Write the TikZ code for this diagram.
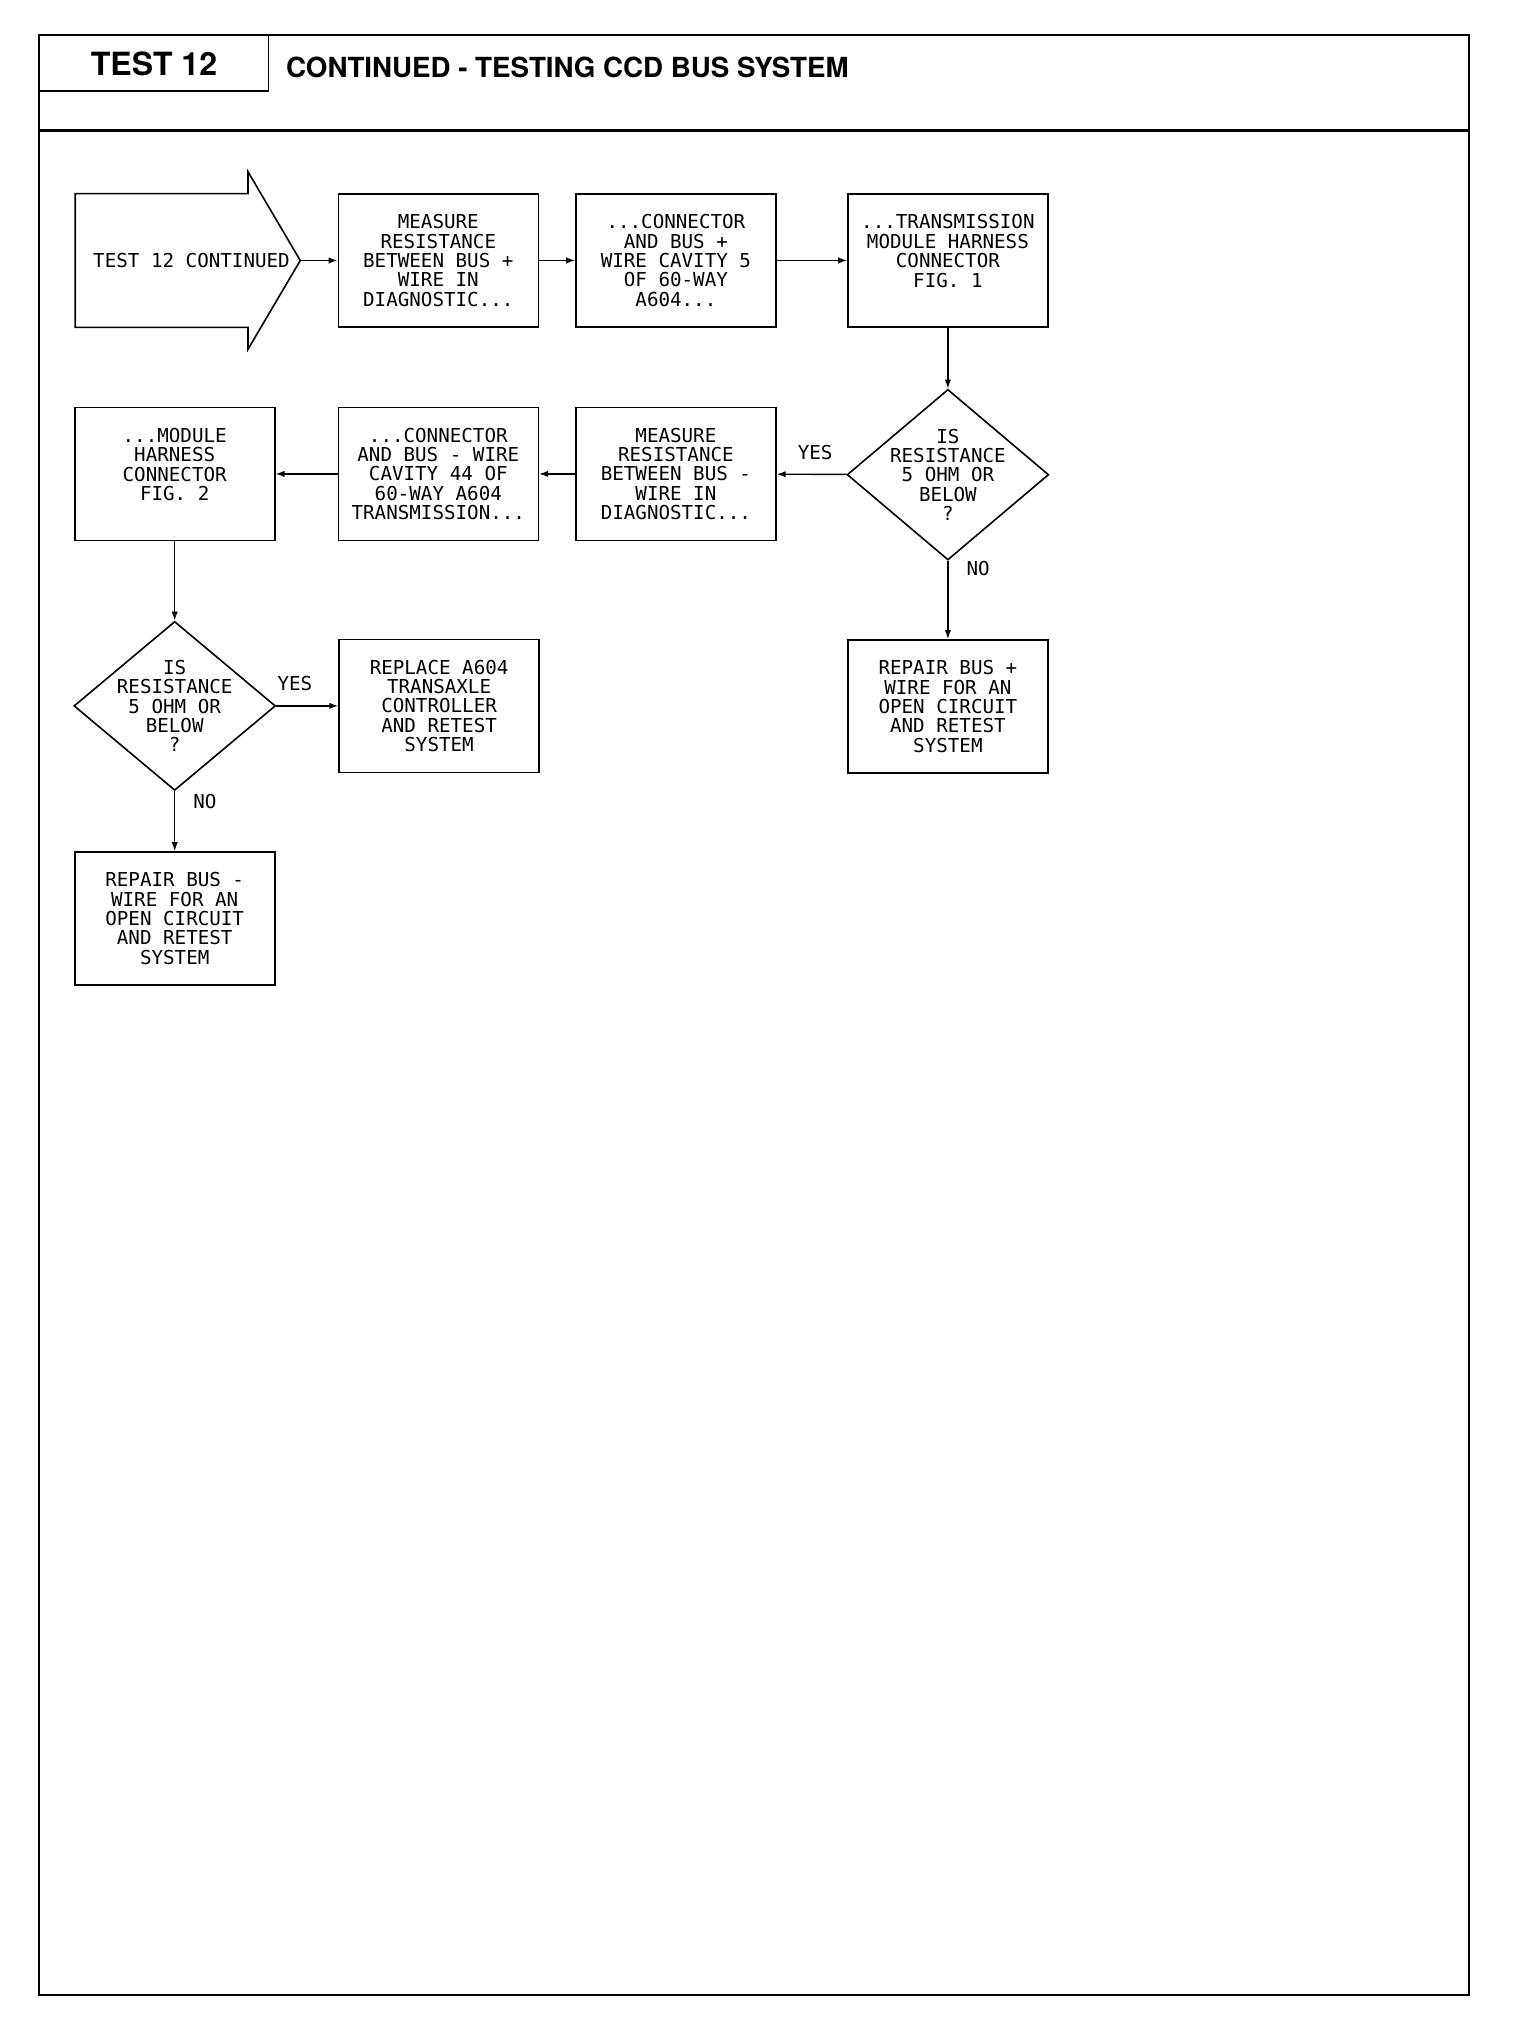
\documentclass[tikz,border=0pt]{standalone}
\usepackage{fontspec}
\usetikzlibrary{arrows.meta,positioning,shapes.geometric,shapes.arrows}
\newfontfamily\plotfont{DejaVu Sans Mono}
\newfontfamily\headfont{TeX Gyre Heros}

\begin{document}
\begin{tikzpicture}[
    x=0.5pt, y=-0.5pt,
    box/.style={draw, line width=0.8pt, minimum width=100pt, minimum height=66.5pt, inner sep=1pt, align=center, font=\plotfont\fontsize{9.6}{9.7}\selectfont},
    decision/.style={draw, diamond, line width=0.8pt, minimum width=100.8pt, minimum height=85.3pt, inner sep=0pt},
    dtext/.style={align=center, inner sep=0pt, font=\plotfont\fontsize{9.6}{9.7}\selectfont},
    tag/.style={inner sep=1pt, font=\plotfont\fontsize{9.6}{9.7}\selectfont},
    arrow/.style={-{Latex[length=4.5pt,width=3.2pt]}, line width=0.7pt}
  ]
    \useasboundingbox (0,0) rectangle (1536,2028);
    % page frame and header
    \draw[line width=1pt] (38.8,34.9) rectangle (1468.7,1995);
    \draw[line width=1.5pt] (38.8,130.6) -- (1468.7,130.6);
    \node[draw, line width=0.8pt, anchor=north west, minimum width=114.4pt, minimum height=27.8pt, font=\headfont\bfseries\fontsize{16}{18}\selectfont] (testno) at (38.8,34.9) {TEST 12};
    \node[anchor=west, inner sep=0pt, font=\headfont\bfseries\fontsize{13.85}{15}\selectfont] (title) at (285.7,67.2) {CONTINUED - TESTING CCD BUS SYSTEM};

    % first row
    \node[single arrow, draw, line width=0.8pt, minimum height=112.5pt, text height=33pt, text depth=33pt, single arrow head extend=10.95pt, single arrow tip angle=119, inner sep=0pt, label={[tag, xshift=11.7pt]center:TEST 12 CONTINUED}] (entry) at (168.1,260.5) {};
    \node[box] (meas1) at (438.3,260.5) {MEASURE\\RESISTANCE\\BETWEEN BUS +\\WIRE IN\\DIAGNOSTIC...};
    \node[box, right=18pt of meas1] (conn1) {...CONNECTOR\\AND BUS +\\WIRE CAVITY 5\\OF 60-WAY\\A604...};
    \node[box, right=35.2pt of conn1] (trans1) {...TRANSMISSION\\MODULE HARNESS\\CONNECTOR\\FIG. 1\\~};

    % second row
    \node[decision, below=30.4pt of trans1, label={[dtext]center:{IS\\RESISTANCE\\5 OHM OR\\BELOW\\?}}] (check1) {};
    \node[box, below=39.4pt of conn1] (meas2) {MEASURE\\RESISTANCE\\BETWEEN BUS -\\WIRE IN\\DIAGNOSTIC...};
    \node[box, below=39.4pt of meas1] (conn2) {...CONNECTOR\\AND BUS - WIRE\\CAVITY 44 OF\\60-WAY A604\\TRANSMISSION...};
    \node[box, left=31pt of conn2] (mod2) {...MODULE\\HARNESS\\CONNECTOR\\FIG. 2\\~};

    % third and fourth rows
    \node[box, below=39.2pt of check1] (fixplus) {REPAIR BUS +\\WIRE FOR AN\\OPEN CIRCUIT\\AND RETEST\\SYSTEM};
    \node[decision, below=39.7pt of mod2, minimum height=84.5pt, label={[dtext]center:{IS\\RESISTANCE\\5 OHM OR\\BELOW\\?}}] (check2) {};
    \node[box, right=31pt of check2] (replace) {REPLACE A604\\TRANSAXLE\\CONTROLLER\\AND RETEST\\SYSTEM};
    \node[box, below=30pt of check2] (fixminus) {REPAIR BUS -\\WIRE FOR AN\\OPEN CIRCUIT\\AND RETEST\\SYSTEM};

    \draw[arrow] (entry.tip) -- (meas1);
    \draw[arrow] (meas1) -- (conn1);
    \draw[arrow] (conn1) -- (trans1);
    \draw[arrow] (trans1) -- (check1);
    \draw[arrow] (check1) -- node[tag, above=6pt, pos=.45]{YES} (meas2);
    \draw[arrow] (check1) -- node[tag, right=8pt, pos=.1]{NO} (fixplus);
    \draw[arrow] (meas2) -- (conn2);
    \draw[arrow] (conn2) -- (mod2);
    \draw[arrow] (mod2) -- (check2);
    \draw[arrow] (check2) -- node[tag, above=6pt, pos=.3]{YES} (replace);
    \draw[arrow] (check2) -- node[tag, right=8pt, pos=.17]{NO} (fixminus);
  \end{tikzpicture}
\end{document}
